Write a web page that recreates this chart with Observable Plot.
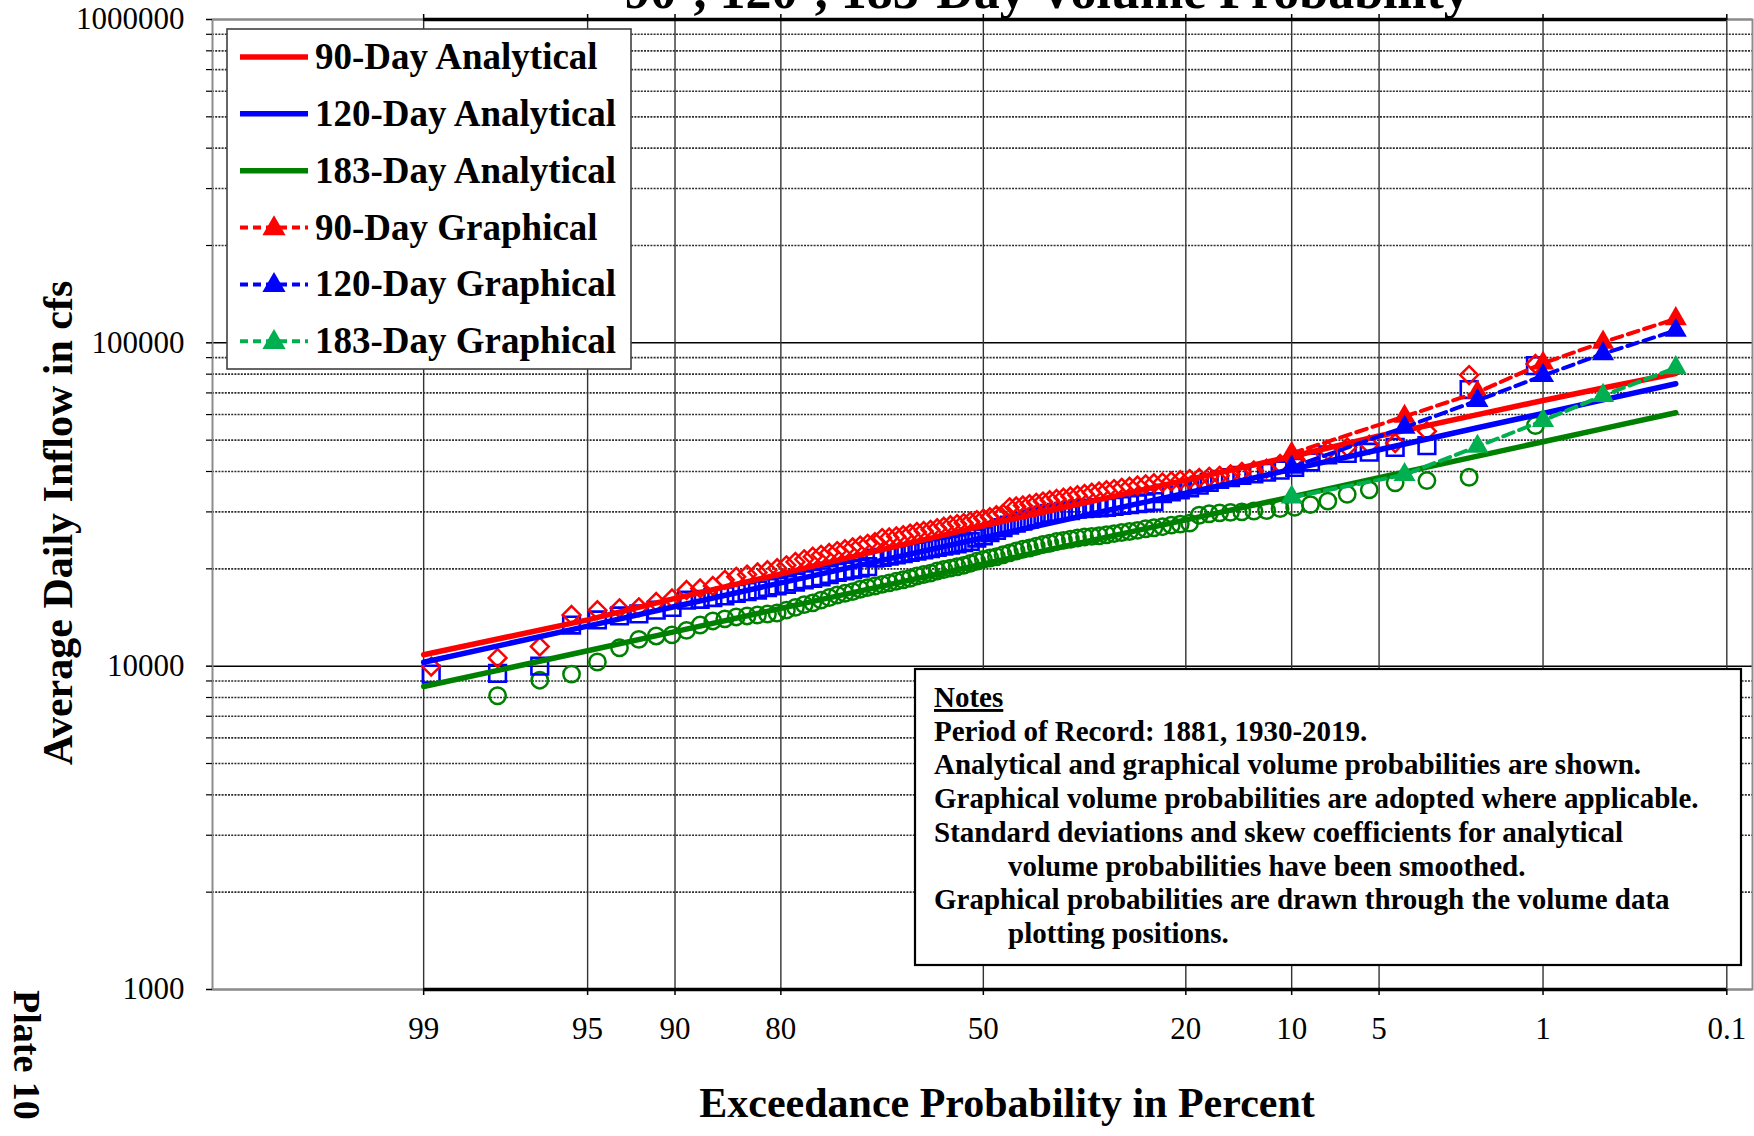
<!DOCTYPE html>
<html>
<head>
<meta charset="utf-8">
<script src="https://cdn.jsdelivr.net/npm/d3@7"></script>
<script src="https://cdn.jsdelivr.net/npm/@observablehq/plot@0.6"></script>
<style>
  html, body { margin: 0; padding: 0; background: #fff; }
  #wrap { position: relative; width: 1754px; height: 1136px; overflow: hidden; }
  #wrap svg { position: absolute; left: 0; top: 0; }
</style>
</head>
<body>
<div id="wrap"></div>
<script>
// ---------------- DATA ----------------
const titleText = "90-, 120-, 183-Day Volume Probability";
const xTitle = "Exceedance Probability in Percent";
const yTitle = "Average Daily Inflow in cfs";
const plateText = "Plate 10";

const xTickLabels = [99, 95, 90, 80, 50, 20, 10, 5, 1, 0.1];   // exceedance %
const yMajor = [1000, 10000, 100000, 1000000];
const yMinorFactors = [2, 3, 4, 5, 6, 7, 8, 9];

const recordYears = 91; // 1881, 1930-2019

// Analytical (smoothed) curves, values at exceedance probabilities
const analyticalProb = [99, 95, 90, 80, 50, 20, 10, 5, 2, 1, 0.5, 0.2];
const analytical90  = [10850, 13900, 16200, 19300, 27200, 37600, 44500, 51500, 60000, 66300, 72500, 80400];
const analytical120 = [10280, 13300, 15300, 18100, 24950, 34300, 40600, 46700, 54600, 60500, 66600, 74700];
const analytical183 = [8650, 11160, 12790, 15090, 20700, 28340, 33400, 38300, 44640, 49430, 54270, 60760];

// Graphical curves
const graphicalProb = [10, 4, 2, 1, 0.5, 0.2];
const graphical90  = [45500, 59200, 70300, 86500, 100400, 118700];
const graphical120 = [41200, 54800, 66300, 79200, 92500, 109200];
const graphical183 = [33300, 39100, 47800, 57500, 68700, 83700];

// Ranked volumes (rank 1 = largest), plotted at Weibull positions
const volume90 = [
  86000, 79500, 53300, 49000, 48400, 47500, 46400, 44300, 43700, 42200,
  40800, 40300, 39900, 39200, 38800, 38500, 38200, 37900, 37600, 37300,
  37000, 36800, 36500, 36200, 35900, 35600, 35300, 35000, 34700, 34400,
  34100, 33800, 33500, 33200, 32900, 32600, 32300, 32000, 31700, 31400,
  31200, 31000, 29600, 29300, 28900, 28600, 28300, 28000, 27700, 27500,
  27300, 27000, 26700, 26400, 26200, 26000, 25700, 25400, 25200, 25000,
  24900, 24200, 23900, 23600, 23300, 23000, 22700, 22400, 22100, 21800,
  21400, 21000, 20500, 20100, 19800, 19500, 19200, 18900, 18500, 17700,
  17400, 17200, 16200, 15800, 15200, 15100, 14900, 14400, 11500, 10600,
  9970
];
const volume120 = [
  85000, 71700, 48100, 47500, 45900, 45500, 45000, 42800, 41200, 40400,
  39800, 39300, 38900, 38300, 37800, 37000, 36300, 35600, 35100, 34600,
  34200, 32300, 32000, 31800, 31600, 31400, 31200, 31000, 30900, 30800,
  30700, 30600, 30300, 30100, 29900, 29700, 29300, 28900, 28500, 28100,
  27700, 27300, 26800, 26300, 25900, 25300, 24900, 24300, 24100, 23900,
  23700, 23500, 23300, 23100, 22900, 22700, 22500, 22300, 22100, 21900,
  21700, 21600, 20300, 20100, 19900, 19700, 19500, 19200, 18900, 18700,
  18500, 18200, 17900, 17700, 17500, 17200, 17000, 16800, 16500, 16300,
  16100, 16000, 15200, 14900, 14500, 14300, 13900, 13400, 10000, 9500,
  9450
];
const volume183 = [
  55500, 38400, 37500, 36900, 35100, 34000, 32400, 31600, 31000, 30700,
  30300, 30200, 30000, 29900, 29800, 29600, 29300, 27700, 27500, 27300,
  27000, 26800, 26600, 26300, 26100, 25900, 25700, 25500, 25300, 25200,
  25100, 24900, 24700, 24500, 24300, 24000, 23800, 23500, 23200, 23000,
  22700, 22400, 22100, 21800, 21600, 21400, 21100, 20800, 20500, 20300,
  20100, 19900, 19700, 19400, 19200, 19000, 18700, 18500, 18300, 18100,
  17900, 17700, 17500, 17300, 17000, 16800, 16600, 16300, 16000, 15700,
  15500, 15200, 14900, 14600, 14500, 14400, 14300, 14200, 14000, 13800,
  13400, 12900, 12500, 12400, 12100, 11400, 10300, 9450, 9050, 8100
];

const legendLabels = ["90-Day Analytical", "120-Day Analytical", "183-Day Analytical",
                      "90-Day Graphical", "120-Day Graphical", "183-Day Graphical"];
const notesTitle = "Notes";
const notesLines = [
  {t: "Period of Record: 1881, 1930-2019.", indent: false},
  {t: "Analytical and graphical volume probabilities are shown.", indent: false},
  {t: "Graphical volume probabilities are adopted where applicable.", indent: false},
  {t: "Standard deviations and skew coefficients for analytical", indent: false},
  {t: "volume probabilities have been smoothed.", indent: true},
  {t: "Graphical probabilities are drawn through the volume data", indent: false},
  {t: "plotting positions.", indent: true}
];

// ---------------- COLOURS ----------------
const RED = "#FF0000", BLUE = "#0000FF", DGREEN = "#008000", LGREEN = "#00B050";

// ---------------- HELPERS ----------------
function probit(p) {
  const a=[-3.969683028665376e+01,2.209460984245205e+02,-2.759285104469687e+02,1.383577518672690e+02,-3.066479806614716e+01,2.506628277459239e+00];
  const b=[-5.447609879822406e+01,1.615858368580409e+02,-1.556989798598866e+02,6.680131188771972e+01,-1.328068155288572e+01];
  const c=[-7.784894002430293e-03,-3.223964580411365e-01,-2.400758277161838e+00,-2.549732539343734e+00,4.374664141464968e+00,2.938163982698783e+00];
  const d=[7.784695709041462e-03,3.224671290700398e-01,2.445134137142996e+00,3.754408661907416e+00];
  const pl = 0.02425, ph = 1 - pl;
  let q, r;
  if (p < pl) { q = Math.sqrt(-2*Math.log(p)); return (((((c[0]*q+c[1])*q+c[2])*q+c[3])*q+c[4])*q+c[5])/((((d[0]*q+d[1])*q+d[2])*q+d[3])*q+1); }
  if (p <= ph) { q = p - 0.5; r = q*q; return (((((a[0]*r+a[1])*r+a[2])*r+a[3])*r+a[4])*r+a[5])*q/(((((b[0]*r+b[1])*r+b[2])*r+b[3])*r+b[4])*r+1); }
  q = Math.sqrt(-2*Math.log(1-p)); return -(((((c[0]*q+c[1])*q+c[2])*q+c[3])*q+c[4])*q+c[5])/((((d[0]*q+d[1])*q+d[2])*q+d[3])*q+1);
}
// normal-probability x position for an exceedance percentage
const zOf = pct => probit(1 - pct / 100);

const xTicksZ = xTickLabels.map(zOf);
const zLabel = new Map(xTickLabels.map(p => [zOf(p), String(p)]));
const yMinor = [];
for (const dec of yMajor.slice(0, 3)) for (const f of yMinorFactors) yMinor.push(dec * f);

const volumeRows = [];
[["90", volume90], ["120", volume120], ["183", volume183]].forEach(([dur, vals]) =>
  vals.forEach((v, i) => volumeRows.push({dur, p: 100 * (i + 1) / (recordYears + 1), v})));
const analyticalRows = [];
[["90", analytical90], ["120", analytical120], ["183", analytical183]].forEach(([dur, vals]) =>
  vals.forEach((v, i) => analyticalRows.push({dur, p: analyticalProb[i], v})));
const graphicalRows = [];
[["90", graphical90], ["120", graphical120], ["183", graphical183]].forEach(([dur, vals]) =>
  vals.forEach((v, i) => graphicalRows.push({dur, p: graphicalProb[i], v})));

const px = d => zOf(d.p);
const sel = (rows, dur) => rows.filter(d => d.dur === dur);

// ---------------- PLOT ----------------
const chart = Plot.plot({
  width: 1754, height: 1136,
  marginLeft: 212, marginRight: 2, marginTop: 19, marginBottom: 147,
  style: {fontFamily: '"Liberation Serif", "Times New Roman", serif', fontSize: "31px", color: "#000", background: "transparent", overflow: "visible"},
  x: {domain: [-3.204, 3.197]},
  y: {type: "log", domain: [1000, 1000000]},
  marks: [
    Plot.ruleY(yMinor, {stroke: "#2e2e2e", strokeWidth: 1.6, strokeDasharray: "2,1.2"}),
    Plot.ruleY(yMajor, {stroke: "#000", strokeWidth: 1.5}),
    Plot.ruleX(xTickLabels, {x: zOf, stroke: "#333", strokeWidth: 1.4}),
    Plot.frame({stroke: "#8c8c8c", strokeWidth: 2}),
    Plot.ruleY([yMajor[0], yMajor[3]], {x1: zOf(xTickLabels[0]), x2: zOf(xTickLabels[xTickLabels.length - 1]), stroke: "#000", strokeWidth: 3.5}),
    Plot.axisX(xTicksZ, {anchor: "bottom", tickSize: 6, tickPadding: 21, strokeWidth: 1.5, tickFormat: z => zLabel.get(z), label: null}),
    Plot.axisX(xTicksZ, {anchor: "top", tickSize: 6, strokeWidth: 1.5, tickFormat: () => "", label: null}),
    Plot.axisY(yMajor, {anchor: "left", tickSize: 6, tickPadding: 22, strokeWidth: 1.5, tickFormat: d => String(d), label: null}),
    Plot.axisY(yMinor, {anchor: "left", tickSize: 6, strokeWidth: 1.2, tickFormat: () => "", label: null}),
    // plotting positions
    Plot.dot(sel(volumeRows, "183"), {x: px, y: "v", symbol: "circle", r: 8.2, stroke: DGREEN, strokeWidth: 2.5, fill: "none"}),
    Plot.dot(sel(volumeRows, "120"), {x: px, y: "v", symbol: "square", r: 9.4, stroke: BLUE, strokeWidth: 2.6, fill: "none"}),
    Plot.dot(sel(volumeRows, "90"), {x: px, y: "v", symbol: "diamond2", r: 8, stroke: RED, strokeWidth: 2.5, fill: "none"}),
    // analytical curves
    Plot.line(sel(analyticalRows, "90"), {x: px, y: "v", stroke: RED, strokeWidth: 5.5}),
    Plot.line(sel(analyticalRows, "120"), {x: px, y: "v", stroke: BLUE, strokeWidth: 5.5}),
    Plot.line(sel(analyticalRows, "183"), {x: px, y: "v", stroke: DGREEN, strokeWidth: 5.5}),
    // graphical curves
    Plot.line(sel(graphicalRows, "90"), {x: px, y: "v", stroke: RED, strokeWidth: 4, strokeDasharray: "11,6"}),
    Plot.dot(sel(graphicalRows, "90"), {x: px, y: "v", symbol: "triangle", r: 8.2, fill: RED}),
    Plot.line(sel(graphicalRows, "120"), {x: px, y: "v", stroke: BLUE, strokeWidth: 4, strokeDasharray: "11,6"}),
    Plot.dot(sel(graphicalRows, "120"), {x: px, y: "v", symbol: "triangle", r: 8.2, fill: BLUE}),
    Plot.line(sel(graphicalRows, "183"), {x: px, y: "v", stroke: LGREEN, strokeWidth: 4, strokeDasharray: "11,6"}),
    Plot.dot(sel(graphicalRows, "183"), {x: px, y: "v", symbol: "triangle", r: 8.2, fill: LGREEN})
  ]
});
document.getElementById("wrap").appendChild(chart);

// ---------------- TITLES, LEGEND, NOTES ----------------
const ov = d3.select("#wrap").append("svg")
  .attr("width", 1754).attr("height", 1136)
  .style("font-family", '"Liberation Serif", "Times New Roman", serif')
  .style("font-weight", "bold");

ov.append("text").attr("x", 1047).attr("y", 8).attr("text-anchor", "middle")
  .attr("font-size", 52).text(titleText);
ov.append("text").attr("transform", "translate(72,523) rotate(-90)").attr("text-anchor", "middle")
  .attr("font-size", 42).text(yTitle);
ov.append("text").attr("x", 1007).attr("y", 1117).attr("text-anchor", "middle")
  .attr("font-size", 42).text(xTitle);
ov.append("text").attr("transform", "translate(14,990) rotate(90)").attr("text-anchor", "start")
  .attr("font-size", 38).text(plateText);

// legend
const lg = ov.append("g");
lg.append("rect").attr("x", 227).attr("y", 29).attr("width", 404).attr("height", 340)
  .attr("fill", "#fff").attr("stroke", "#404040").attr("stroke-width", 1.6);
const legendStyles = [
  {c: RED, dash: false}, {c: BLUE, dash: false}, {c: DGREEN, dash: false},
  {c: RED, dash: true}, {c: BLUE, dash: true}, {c: LGREEN, dash: true}
];
const tri = (cx, cy, r) => {
  const a = 0.7776 * r, h = Math.sqrt(3) * a;
  return `M${cx},${cy - 2 * a}L${cx - h},${cy + a}L${cx + h},${cy + a}Z`;
};
legendLabels.forEach((lab, i) => {
  const cy = 57 + i * 56.85;
  const s = legendStyles[i];
  lg.append("line").attr("x1", 240).attr("x2", 308).attr("y1", cy).attr("y2", cy)
    .attr("stroke", s.c).attr("stroke-width", s.dash ? 4 : 5.5)
    .attr("stroke-dasharray", s.dash ? "8,5" : null);
  if (s.dash) lg.append("path").attr("d", tri(274, cy + 1, 8.6)).attr("fill", s.c);
  lg.append("text").attr("x", 315).attr("y", cy + 12).attr("font-size", 37).text(lab);
});

// notes
const nt = ov.append("g");
nt.append("rect").attr("x", 915).attr("y", 669).attr("width", 826).attr("height", 296)
  .attr("fill", "#fff").attr("stroke", "#000").attr("stroke-width", 2.2);
nt.append("text").attr("x", 934).attr("y", 707).attr("font-size", 29)
  .attr("text-decoration", "underline").text(notesTitle);
notesLines.forEach((ln, i) => {
  nt.append("text").attr("x", ln.indent ? 1008 : 934).attr("y", 707 + (i + 1) * 33.7)
    .attr("font-size", 29).text(ln.t);
});
</script>
</body>
</html>
